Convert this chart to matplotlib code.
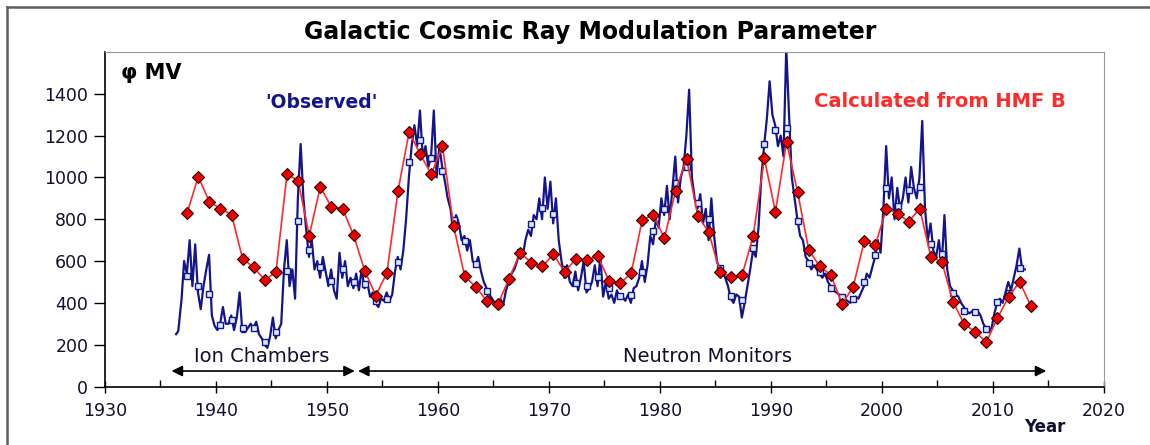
import numpy as np
import matplotlib
matplotlib.use("Agg")
import matplotlib.pyplot as plt
from matplotlib.lines import Line2D

plt.rcParams['font.family'] = ['DejaVu Sans']

# calculated from HMF B, one value per year (plotted at year + 0.4)
calc_years = list(range(1937, 2014))
calc_phi = [830, 1004, 884, 851, 822, 611, 570, 509, 547, 1017,
            984, 721, 956, 857, 851, 723, 554, 435, 544, 937,
            1217, 1111, 1015, 1151, 769, 528, 476, 410, 394, 516,
            640, 593, 574, 634, 547, 610, 603, 624, 507, 493,
            541, 797, 821, 709, 936, 1090, 817, 737, 547, 526,
            534, 721, 1091, 835, 1169, 929, 654, 574, 534, 394,
            476, 694, 677, 851, 827, 789, 851, 621, 595, 404,
            300, 261, 212, 327, 428, 501, 386]

# observed, annual means
obs_years = list(range(1937, 2013))
obs_phi = [530, 483, 443, 295, 316, 280, 280, 215, 263, 554,
           792, 651, 571, 507, 563, 499, 490, 411, 419, 595,
           1073, 1178, 1094, 1032, 798, 697, 587, 456, 397, 515,
           643, 778, 854, 824, 560, 496, 483, 524, 470, 432,
           437, 547, 745, 849, 972, 1051, 878, 803, 567, 434,
           416, 662, 1162, 1229, 1237, 790, 590, 550, 471, 428,
           417, 501, 629, 948, 862, 939, 956, 682, 632, 445,
           363, 357, 274, 404, 448, 568]

# observed, quarterly values 1937-2012 (plus start of record in 1936)
obs_start_t = [1936.4, 1936.6, 1936.9]
obs_start_v = [250, 265, 420]
obs_q = [
    600, 540, 700, 480,   # 1937
    680, 450, 370, 480,
    560, 630, 340, 290,
    270, 300, 380, 300,   # 1940
    300, 340, 270, 330,
    450, 260, 260, 280,
    300, 280, 310, 250,
    230, 200, 185, 240,
    330, 230, 270, 300,   # 1945
    560, 700, 480, 560,
    420, 900, 1160, 900,
    750, 620, 700, 560,
    600, 520, 620, 550,
    480, 560, 460, 420,   # 1950
    640, 520, 600, 480,
    520, 470, 540, 460,
    560, 470, 500, 430,
    450, 400, 380, 420,
    410, 450, 410, 440,   # 1955
    550, 620, 560, 650,
    800, 1000, 1150, 1250,
    1150, 1320, 1100, 1150,
    1050, 1100, 1320, 1000,
    1150, 1050, 980, 900,  # 1960
    850, 750, 820, 780,
    700, 720, 650, 700,
    600, 580, 620, 550,
    500, 470, 440, 420,
    400, 370, 420, 390,   # 1965
    460, 500, 540, 560,
    600, 650, 620, 700,
    750, 720, 820, 800,
    900, 800, 1000, 850,
    980, 780, 900, 700,   # 1970
    600, 520, 580, 500,
    480, 550, 460, 520,
    600, 450, 470, 500,
    580, 480, 620, 430,
    500, 420, 440, 400,   # 1975
    460, 420, 430, 410,
    440, 400, 470, 480,
    520, 600, 500, 580,
    720, 680, 800, 760,
    900, 820, 960, 800,   # 1980
    950, 1100, 880, 1000,
    1050, 1200, 1420, 1000,
    900, 850, 920, 780,
    850, 700, 900, 720,
    600, 560, 550, 520,   # 1985
    480, 420, 400, 440,
    430, 330, 400, 480,
    560, 650, 620, 760,
    1000, 1150, 1280, 1460,
    1300, 1250, 1150, 1200,  # 1990
    1100, 1620, 1300, 1000,
    900, 800, 720, 700,
    620, 600, 560, 580,
    560, 540, 520, 540,
    500, 480, 460, 450,   # 1995
    440, 420, 420, 410,
    400, 420, 430, 420,
    450, 480, 540, 520,
    570, 620, 700, 640,
    850, 1150, 900, 1000,  # 2000
    800, 950, 850, 900,
    1000, 880, 1050, 950,
    900, 1000, 1270, 850,
    700, 780, 650, 620,
    700, 580, 820, 560,   # 2005
    480, 460, 440, 430,
    400, 380, 360, 350,
    360, 350, 360, 340,
    300, 280, 260, 280,
    350, 400, 420, 400,   # 2010
    450, 500, 460, 520,
    580, 660, 560, 560,
]

navy = '#14148c'
red = '#ff2a2a'
ink = '#101030'

fig = plt.figure(figsize=(11.5, 4.45), dpi=100)
ax = fig.add_axes([105 / 1150, 58.5 / 445, 999 / 1150, 334.5 / 445])

q_t = 1937 + 0.125 + 0.25 * np.arange(len(obs_q))
line_t = np.concatenate([obs_start_t, q_t])
line_v = np.concatenate([obs_start_v, obs_q])
ax.plot(line_t, line_v, color=navy, lw=1.6, zorder=2)
ax.plot(np.array(obs_years) + 0.4, obs_phi, ls='none', marker='s', ms=4.5,
        mfc='#d8ecff', mec=navy, mew=1.0, zorder=3)
ax.plot(np.array(calc_years) + 0.4, calc_phi, color=red, lw=1.2,
        marker='D', ms=6.5, mfc='#ee0000', mec='#300000', mew=0.8, zorder=4)

ax.set_xlim(1930, 2020)
ax.set_ylim(0, 1600)
ax.set_xticks(range(1930, 2021, 10))
ax.set_xticks(range(1935, 2020, 10), minor=True)
ax.set_yticks(range(0, 1401, 200))
ax.tick_params(axis='x', which='major', direction='inout', length=9, width=1,
               labelsize=12.5, pad=7, labelcolor=ink)
ax.tick_params(axis='x', which='minor', direction='in', length=5, width=1)
ax.tick_params(axis='y', direction='out', length=8, width=1, labelsize=12.5,
               labelcolor=ink, pad=4)
for s in ['top', 'right']:
    ax.spines[s].set_color('#999999')
for s in ['left', 'bottom']:
    ax.spines[s].set_color('black')
    ax.spines[s].set_linewidth(1.2)

# instrument era arrows
ax.annotate('', xy=(1936.0, 74), xytext=(1952.5, 74),
            arrowprops=dict(arrowstyle='<|-|>', color='black', lw=1.2,
                            mutation_scale=16, shrinkA=0, shrinkB=0))
ax.annotate('', xy=(1952.8, 74), xytext=(2014.8, 74),
            arrowprops=dict(arrowstyle='<|-|>', color='black', lw=1.2,
                            mutation_scale=16, shrinkA=0, shrinkB=0))
ax.text(1944.1, 145, 'Ion Chambers', fontsize=14, ha='center', va='center',
        color=ink)
ax.text(1984.3, 145, 'Neutron Monitors', fontsize=14, ha='center',
        va='center', color=ink)

ax.text(1931.4, 1500, 'φ MV', fontsize=15, fontweight='bold', va='center')
ax.text(1949.5, 1358, "'Observed'", fontsize=13.5, fontweight='bold',
        color=navy, ha='center', va='center')
ax.text(1993.9, 1363, 'Calculated from HMF B', fontsize=14,
        fontweight='bold', color=red, va='center')

fig.text(590 / 1150, 1 - 32 / 445, 'Galactic Cosmic Ray Modulation Parameter',
         fontsize=17, fontweight='bold', ha='center', va='center')
fig.text(1045 / 1150, 1 - 427 / 445, 'Year', fontsize=12,
         fontweight='bold', ha='center', va='center', color=ink)

# outer frame
fig.add_artist(Line2D([7 / 1150, 1], [1 - 7 / 445, 1 - 7 / 445],
                      transform=fig.transFigure, color='#606060', lw=1.8))
fig.add_artist(Line2D([7 / 1150, 7 / 1150], [0, 1 - 7 / 445],
                      transform=fig.transFigure, color='#606060', lw=1.8))

fig.savefig('out.png', dpi=100)
